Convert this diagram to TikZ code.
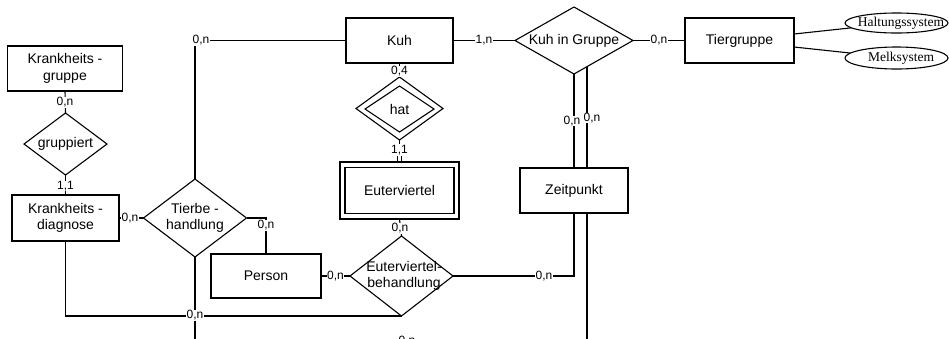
\documentclass[tikz,border=0pt]{standalone}
\usepackage{fontspec}
\setmainfont{Liberation Sans}
\newfontfamily\serifface{Liberation Serif}
\usetikzlibrary{shapes.geometric,backgrounds}
\tikzset{
  ent/.style={draw, line width=1.1pt, fill=white, rectangle, inner sep=0pt, outer sep=0pt, font=\fontsize{14}{16.5}\selectfont, align=center},
  rel/.style={draw, line width=1.1pt, fill=white, diamond, inner sep=0pt, outer sep=0pt},
  txt/.style={font=\fontsize{14}{16.5}\selectfont, align=center, inner sep=0pt},
  lab/.style={fill=white, inner sep=0.5pt, font=\fontsize{12}{13}\selectfont},
  conn/.style={line width=1.1pt},
  attr/.style={draw, ellipse, line width=1.1pt, fill=white, inner sep=0pt, outer sep=0pt},
  attrtxt/.style={font=\serifface\fontsize{13.5}{16}\selectfont, inner sep=0pt},
}
\begin{document}
\begin{tikzpicture}[x=1pt, y=-1pt]
\useasboundingbox (0,0) rectangle (949,338);

% entities
\node[ent, minimum width=115pt, minimum height=45pt] (kg) at (65,68.5) {Krankheits -\\gruppe};
\node[ent, minimum width=107pt, minimum height=46pt] (kd) at (65.5,218) {Krankheits -\\diagnose};
\node[ent, minimum width=107pt, minimum height=45pt] (kuh) at (399.5,40.5) {Kuh};
\node[ent, minimum width=109pt, minimum height=45pt] (tg) at (739.5,40.5) {Tiergruppe};
\node[ent, minimum width=110pt, minimum height=44pt] (person) at (266,276) {Person};
\node[ent, minimum width=108pt, minimum height=45pt] (zp) at (574,190.5) {Zeitpunkt};
\node[ent, minimum width=119pt, minimum height=57pt] (evout) at (399.5,190.5) {};
\node[ent, minimum width=109pt, minimum height=46pt] (ev) at (399.5,190.5) {Euterviertel};

% relationships
\node[rel, minimum width=83pt, minimum height=62pt] (gr) at (65.5,144) {};
\node[txt] (grt) at (gr) {gruppiert};
\node[rel, minimum width=103pt, minimum height=78pt] (tb) at (195,218) {};
\node[txt] (tbt) at (tb) {Tierbe -\\handlung};
\node[rel, minimum width=118pt, minimum height=67pt] (kig) at (574,40.5) {};
\node[txt] (kigt) at (kig) {Kuh in Gruppe};
\node[rel, minimum width=103pt, minimum height=80pt] (eb) at (401.5,276) {};
\node[txt] (ebt) at (404,276) {Euterviertel-\\behandlung};
\node[rel, minimum width=87pt, minimum height=63pt] (hatout) at (399.5,108.5) {};
\node[rel, minimum width=69pt, minimum height=46pt] (hat) at (399.5,109) {};
\node[txt] (hatt) at (hat) {hat};

% attributes
\node[attr, minimum width=103pt, minimum height=20pt] (halt) at (896.5,23) {};
\node[attrtxt] (haltt) at (901,23) {Haltungssystem};
\node[attr, minimum width=103pt, minimum height=22pt] (melk) at (896.5,58) {};
\node[attrtxt] (melkt) at (901,58) {Melksystem};

% free ends
\coordinate (b1) at (195,340);
\coordinate (b2) at (587,340);
\coordinate (t2) at (587,60);

% cardinality labels
\node[lab, anchor=west] (l1) at (192,40.5) {0,n};
\node[lab] (l2) at (484,40.5) {1,n};
\node[lab] (l3) at (659,40.5) {0,n};
\node[lab] (l4) at (65,102.5) {0,n};
\node[lab] (l5) at (65.5,186) {1,1};
\node[lab] (l6) at (130,218) {0,n};
\node[lab] (l7) at (266,225.5) {0,n};
\node[lab] (l8) at (335.5,276) {0,n};
\node[lab] (l9) at (400,228.5) {0,n};
\node[lab] (l10) at (544,276.5) {0,n};
\node[lab] (l11) at (399.5,150) {1,1};
\node[lab] (l12) at (399.5,71.5) {0,4};
\node[lab] (l13) at (195,315.5) {0,n};
\node[lab] (l14) at (407,341) {0,n};
\node[lab] (l15) at (592,118) {0,n};
\node[lab] (l16) at (572,121) {0,n};

\begin{pgfonlayer}{background}
\draw[conn] (kuh.west) -- (kuh.west -| tb.north) -- (tb.north);
\draw[conn] (kuh.east) -- (kig.west);
\draw[conn] (kig.east) -- (tg.west);
\draw[conn] ([yshift=6.5pt]tg.east) -- (halt);
\draw[conn] ([yshift=-6.5pt]tg.east) -- (melk);
\draw[conn] (kg.south) -- (gr.north);
\draw[conn] (gr.south) -- (kd.north);
\draw[conn] (kd.east) -- (tb.west);
\draw[conn] (tb.east) -- (tb.east -| person.north) -- (person.north);
\draw[conn] (person.east) -- (eb.west);
\draw[conn] (evout.south) -- (eb.north);
\draw[conn] (eb.east) -- (eb.east -| zp.south) -- (zp.south);
\draw[conn] (kd.south) -- (kd.south |- eb.south) -- (eb.south);
\draw[conn] (tb.south) -- (b1);
\draw[conn] (kig.south) -- (zp.north);
\draw[conn] (t2) -- (b2);
\draw[conn] (kuh.south) -- (hatout.north);
\draw[conn] (hatout.south) -- (l11);
\draw[line width=0.8pt, double distance=3pt] (l11.south) -- (evout.north);
\end{pgfonlayer}
\end{tikzpicture}
\end{document}
